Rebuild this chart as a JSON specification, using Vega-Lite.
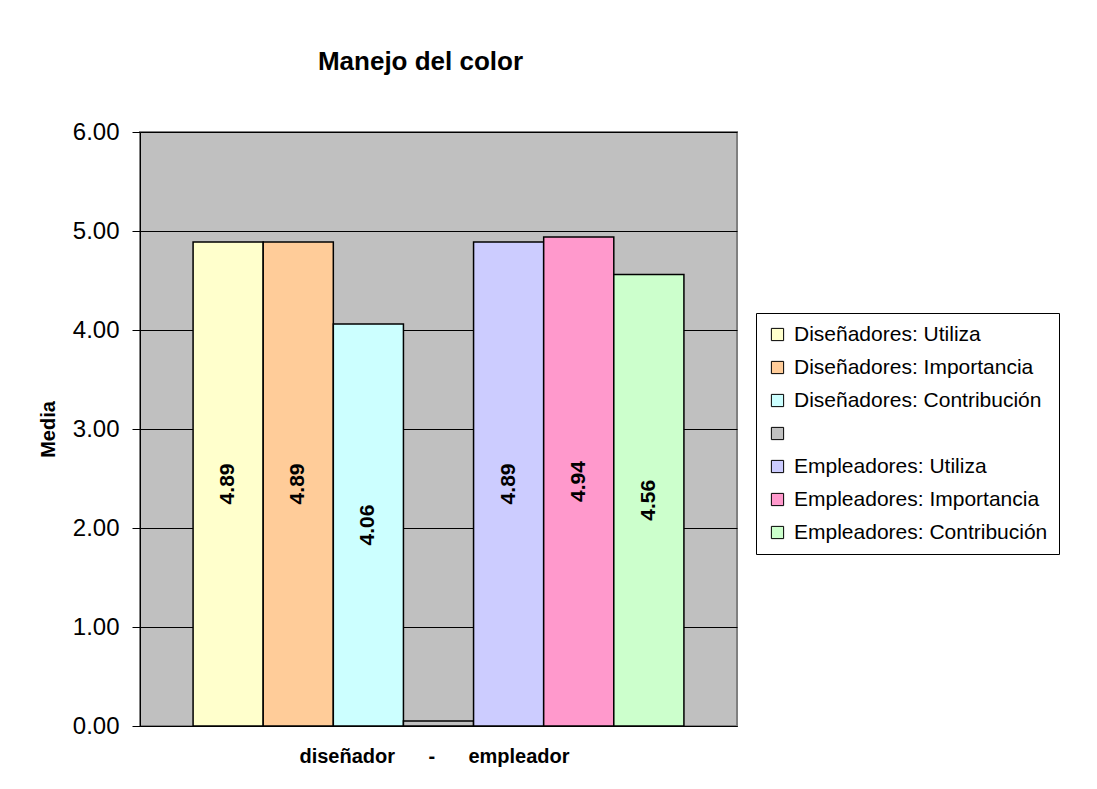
{
  "$schema": "https://vega.github.io/schema/vega-lite/v6.json",
  "width": 597,
  "height": 594,
  "autosize": {"type": "none"},
  "padding": {"left": 140, "top": 132, "right": 360, "bottom": 63},
  "background": "white",
  "title": {
    "text": "Manejo del color",
    "font": "Liberation Sans",
    "fontSize": 26,
    "fontWeight": "bold",
    "color": "black",
    "frame": "group",
    "anchor": "middle",
    "dx": -18,
    "offset": 45
  },
  "config": {
    "view": {"fill": "#C0C0C0", "stroke": "#808080", "strokeWidth": 2}
  },
  "data": {
    "values": [
      {"serie": "Diseñadores: Utiliza", "media": 4.89},
      {"serie": "Diseñadores: Importancia", "media": 4.89},
      {"serie": "Diseñadores: Contribución", "media": 4.06},
      {"serie": " ", "media": 0.05},
      {"serie": "Empleadores: Utiliza", "media": 4.89},
      {"serie": "Empleadores: Importancia", "media": 4.94},
      {"serie": "Empleadores: Contribución", "media": 4.56}
    ]
  },
  "layer": [
    {
      "mark": {"type": "bar", "stroke": "black", "strokeWidth": 1.5},
      "encoding": {
        "x": {
          "field": "serie",
          "type": "nominal",
          "sort": null,
          "scale": {
            "domain": ["Diseñadores: Utiliza", "Diseñadores: Importancia", "Diseñadores: Contribución", " ", "Empleadores: Utiliza", "Empleadores: Importancia", "Empleadores: Contribución"],
            "paddingInner": 0,
            "paddingOuter": 0.757
          },
          "axis": {
            "labels": false,
            "ticks": false,
            "domain": true,
            "domainColor": "black",
            "domainWidth": 1,
            "grid": false,
            "title": "diseñador\u00a0\u00a0\u00a0\u00a0\u00a0\u00a0-\u00a0\u00a0\u00a0\u00a0\u00a0\u00a0empleador",
            "titleFont": "Liberation Sans",
            "titleFontSize": 20,
            "titleFontWeight": "bold",
            "titleColor": "black",
            "titlePadding": 20,
            "titleX": 294
          }
        },
        "y": {
          "field": "media",
          "type": "quantitative",
          "scale": {"domain": [0, 6]},
          "axis": {
            "values": [0, 1, 2, 3, 4, 5, 6],
            "format": ".2f",
            "labelFont": "Liberation Sans",
            "labelFontSize": 24,
            "labelColor": "black",
            "labelPadding": 13,
            "tickSize": 8,
            "tickColor": "black",
            "domainColor": "black",
            "gridColor": "black",
            "gridWidth": 1,
            "gridOpacity": 1,
            "title": "Media",
            "titleFont": "Liberation Sans",
            "titleFontSize": 20,
            "titleFontWeight": "bold",
            "titleColor": "black",
            "titlePadding": 14
          }
        },
        "color": {
          "field": "serie",
          "type": "nominal",
          "scale": {
            "domain": ["Diseñadores: Utiliza", "Diseñadores: Importancia", "Diseñadores: Contribución", " ", "Empleadores: Utiliza", "Empleadores: Importancia", "Empleadores: Contribución"],
            "range": ["#FFFFCC", "#FFCC99", "#CCFFFF", "#C0C0C0", "#CCCCFF", "#FF99CC", "#CCFFCC"]
          },
          "legend": {
            "title": null,
            "orient": "none",
            "legendX": 616,
            "legendY": 181,
            "fillColor": "white",
            "strokeColor": "black",
            "padding": 11,
            "symbolType": "square",
            "symbolSize": 150,
            "symbolStrokeColor": "black",
            "symbolStrokeWidth": 1,
            "symbolOpacity": 1,
            "labelFont": "Liberation Sans",
            "labelFontSize": 21,
            "labelColor": "black",
            "labelOffset": 6,
            "labelLimit": 400,
            "rowPadding": 11
          }
        }
      }
    },
    {
      "transform": [{"filter": "datum.media > 1"}],
      "mark": {"type": "text", "angle": 270, "fontWeight": "bold", "fontSize": 21, "font": "Liberation Sans", "color": "black"},
      "encoding": {
        "x": {"field": "serie", "type": "nominal", "sort": null},
        "y": {"field": "media", "type": "quantitative", "scale": {"domain": [0, 12]}, "axis": null},
        "text": {"field": "media", "type": "quantitative", "format": ".2f"}
      }
    }
  ],
  "resolve": {"scale": {"y": "independent"}}
}
